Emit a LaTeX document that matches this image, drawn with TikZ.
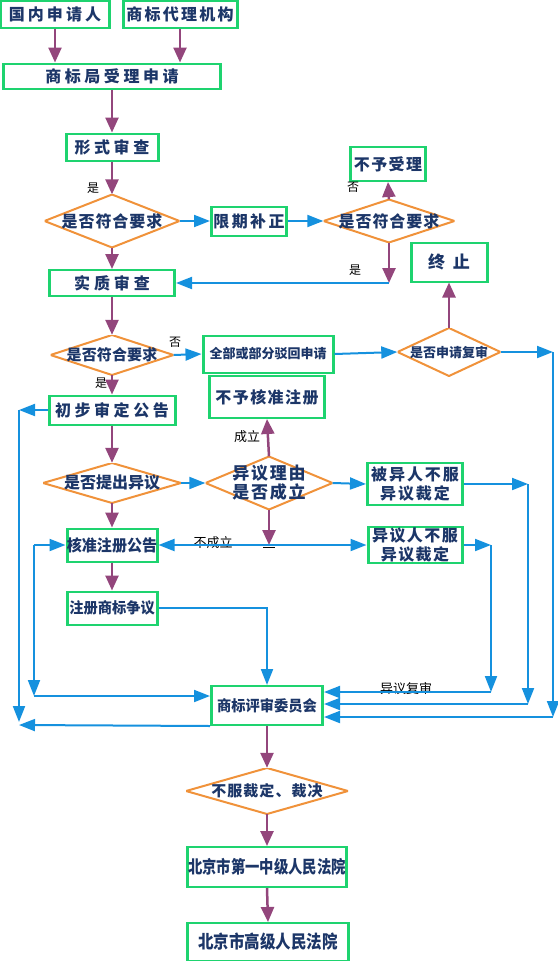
\documentclass[tikz,border=0pt]{standalone}
\usepackage{fontspec}
\setmainfont{Noto Sans CJK SC}
\usetikzlibrary{arrows.meta}
\definecolor{cgreen}{HTML}{1ED36F}
\definecolor{cnavy}{HTML}{1C3668}
\definecolor{cpurple}{HTML}{93467C}
\definecolor{cblue}{HTML}{1591DE}
\definecolor{corange}{HTML}{F0923A}
\tikzset{
  every picture/.style={x=1pt, y=-1pt},
  txt/.style 2 args={font=\bfseries\fontsize{#1}{19}\selectfont\addfontfeature{LetterSpace=#2}},
  nar/.style 2 args={font=\bfseries\fontsize{#1}{19}\selectfont\addfontfeature{FakeStretch=#2}},
  box/.style={draw=cgreen, line width=2pt, fill=white, text=cnavy, inner sep=0pt, align=center,
    path picture={\draw[cgreen, line width=4pt]
      (path picture bounding box.north west) -- (path picture bounding box.south west)
      (path picture bounding box.north east) -- (path picture bounding box.south east);}},
  ask/.style={inner sep=0pt, text=cnavy, align=center,
    path picture={\draw[corange, line width=2pt, fill=white]
      (path picture bounding box.north) -- (path picture bounding box.east) --
      (path picture bounding box.south) -- (path picture bounding box.west) -- cycle;}},
  purp/.style={draw=cpurple, line width=2.5pt, -{Triangle[length=15pt, width=13pt]}},
  bline/.style={draw=cblue, line width=2pt, -{Triangle[length=16pt, width=12pt]}},
  lab/.style={font=\fontsize{12}{14}\selectfont, text=black, inner sep=0pt},
}
\begin{document}
\begin{tikzpicture}
  \useasboundingbox (0,0) rectangle (557,961);
  % filing
  \node[box, txt={16}{19}, minimum width=110, minimum height=27] (app) at (55,14) {国内申请人};
  \node[box, txt={16}{14}, minimum width=115, minimum height=27] (agent) at (180,14) {商标代理机构};
  \node[box, txt={16}{22}, minimum width=218, minimum height=25] (office) at (112,76) {商标局受理申请};
  \node[box, txt={16}{22}, minimum width=93, minimum height=27] (form) at (112,147) {形式审查};
  \node[ask, txt={16}{6}, minimum width=135, minimum height=53] (chk1) at (112,221) {是否符合要求};
  \node[box, txt={16}{15}, minimum width=76, minimum height=29] (fix) at (249,221) {限期补正};
  \node[ask, txt={16}{6}, minimum width=131, minimum height=43] (chk2) at (389,221) {是否符合要求};
  \node[box, txt={16}{9}, minimum width=76, minimum height=34] (refuse) at (388,164) {不予受理};
  % examination
  \node[box, txt={16}{24}, minimum width=126, minimum height=26] (subst) at (112,283) {实质审查};
  \node[ask, txt={15}{1}, minimum width=123, minimum height=40] (chk3) at (112,355) {是否符合要求};
  \node[box, txt={13}{0}, minimum width=131, minimum height=37] (reject) at (268,354) {全部或部分驳回申请};
  \node[ask, txt={13}{0}, minimum width=103, minimum height=48] (review) at (449,352) {是否申请复审};
  \node[box, txt={17}{45}, minimum width=77, minimum height=39] (stop) at (449,262) {终止};
  % opposition
  \node[box, txt={16}{22}, minimum width=127, minimum height=29] (prelim) at (112,410) {初步审定公告};
  \node[box, txt={16}{9}, minimum width=116, minimum height=42] (deny) at (267,397) {不予核准注册};
  \node[ask, txt={16}{0}, minimum width=138, minimum height=40] (objq) at (112,483) {是否提出异议};
  \node[ask, txt={17}{10}, minimum width=127, minimum height=53] (objok) at (269,483) {异议理由\\是否成立};
  \node[box, txt={16}{12}, minimum width=96, minimum height=42] (opp1) at (415,484) {被异人不服\\异议裁定};
  \node[box, txt={16}{9}, minimum width=95, minimum height=36] (opp2) at (415,545) {异议人不服\\异议裁定};
  \node[box, nar={16}{0.94}, minimum width=91, minimum height=33] (reg) at (112,545) {核准注册公告};
  \node[box, nar={15}{0.95}, minimum width=91, minimum height=33] (dispute) at (112,608) {注册商标争议};
  % board and courts
  \node[box, nar={15}{0.95}, minimum width=112, minimum height=39] (board) at (267,705.5) {商标评审委员会};
  \node[ask, txt={15}{7}, minimum width=162, minimum height=46] (final) at (267,791) {不服裁定、裁决};
  \node[box, nar={17.5}{0.82}, minimum width=160, minimum height=40] (court1) at (267,867) {北京市第一中级人民法院};
  \node[box, nar={18}{0.86}, minimum width=162, minimum height=38] (court2) at (268,942) {北京市高级人民法院};

  % labels
  \node[lab] (yes1) at (93,188) {是};
  \node[lab] (no1) at (353,187) {否};
  \node[lab] (yes2) at (355,270) {是};
  \node[lab] (no2) at (175,342) {否};
  \node[lab] (yes3) at (101,383) {是};
  \node[lab, font=\fontsize{13}{15}\selectfont] (ok) at (247,437) {成立};
  \node[lab, font=\fontsize{13}{15}\selectfont] (notok) at (213,543) {不成立};
  \node[lab, font=\fontsize{13}{15}\selectfont] (rev) at (406,689) {异议复审};

  % main line
  \draw[purp] (app.south) -- (app.south |- office.north);
  \draw[purp] (agent.south) -- (agent.south |- office.north);
  \draw[purp] (office.south) -- (form.north);
  \draw[purp] (form.south) -- (chk1.north);
  \draw[bline] (chk1.east) -- (fix.west);
  \draw[bline] (fix.east) -- (chk2.west);
  \draw[purp] (chk2.north) -- (refuse.south);
  \coordinate (c2) at (chk2.south |- subst.east);
  \draw[purp] (chk2.south) -- (c2);
  \draw[bline] (c2) -- (subst.east);
  \draw[purp] (chk1.south) -- (subst.north);
  \draw[purp] (subst.south) -- (chk3.north);
  \draw[bline] (chk3.east) -- (reject.west);
  \draw[bline] (reject.east) -- (review.west);
  \draw[purp] (review.north) -- (stop.south);
  \draw[purp] (chk3.south) -- (prelim.north);
  \draw[purp] (prelim.south) -- (objq.north);
  \draw[purp] (objq.south) -- (reg.north);
  \draw[bline] (objq.east) -- (objok.west);
  \draw[purp] (objok.north) -- (deny.south);
  \draw[bline] (objok.east) -- (opp1.west);
  \coordinate (tk) at (objok.south |- reg.east);
  \draw[purp] (objok.south) -- (tk);
  \draw[black, line width=1pt] (tk) ++(-6,2) -- ++(12,0);
  \draw[bline, {Triangle[length=16pt, width=12pt]}-{Triangle[length=16pt, width=12pt]}] (reg.east) -- (opp2.west);
  \draw[purp] (reg.south) -- (dispute.north);
  \draw[bline] (dispute.east) -| (board.north);
  \draw[purp] (board.south) -- (final.north);
  \draw[purp] (final.south) -- (court1.north);
  \draw[purp] (court1.south) -- (court2.north);

  % loops to the board
  \coordinate (ra) at (553,352);
  \coordinate (rb) at (553,717);
  \draw[bline] (review.east) -- (ra);
  \draw[bline] (ra) -- (rb);
  \draw[bline] (rb) -- (board.east |- rb);
  \coordinate (pa) at (528,484);
  \coordinate (pb) at (528,704);
  \draw[bline] (opp1.east) -- (pa);
  \draw[bline] (pa) -- (pb);
  \draw[bline] (pb) -- (board.east |- pb);
  \coordinate (qa) at (491,545);
  \coordinate (qb) at (491,692);
  \draw[bline] (opp2.east) -- (qa);
  \draw[bline] (qa) -- (qb);
  \draw[bline] (qb) -- (board.east |- qb);
  \coordinate (la) at (19,410);
  \coordinate (lb) at (19,722);
  \coordinate (ld) at (19,725);
  \draw[bline] (prelim.west) -- (la);
  \draw[bline] (la) -- (lb);
  \draw[bline] (board.south west) -- (ld);
  \coordinate (ka) at (34,545);
  \coordinate (kb) at (34,696);
  \draw[bline] (ka) -- (reg.west);
  \draw[bline] (ka) -- (kb);
  \draw[bline] (kb) -- (board.west |- kb);
\end{tikzpicture}
\end{document}
